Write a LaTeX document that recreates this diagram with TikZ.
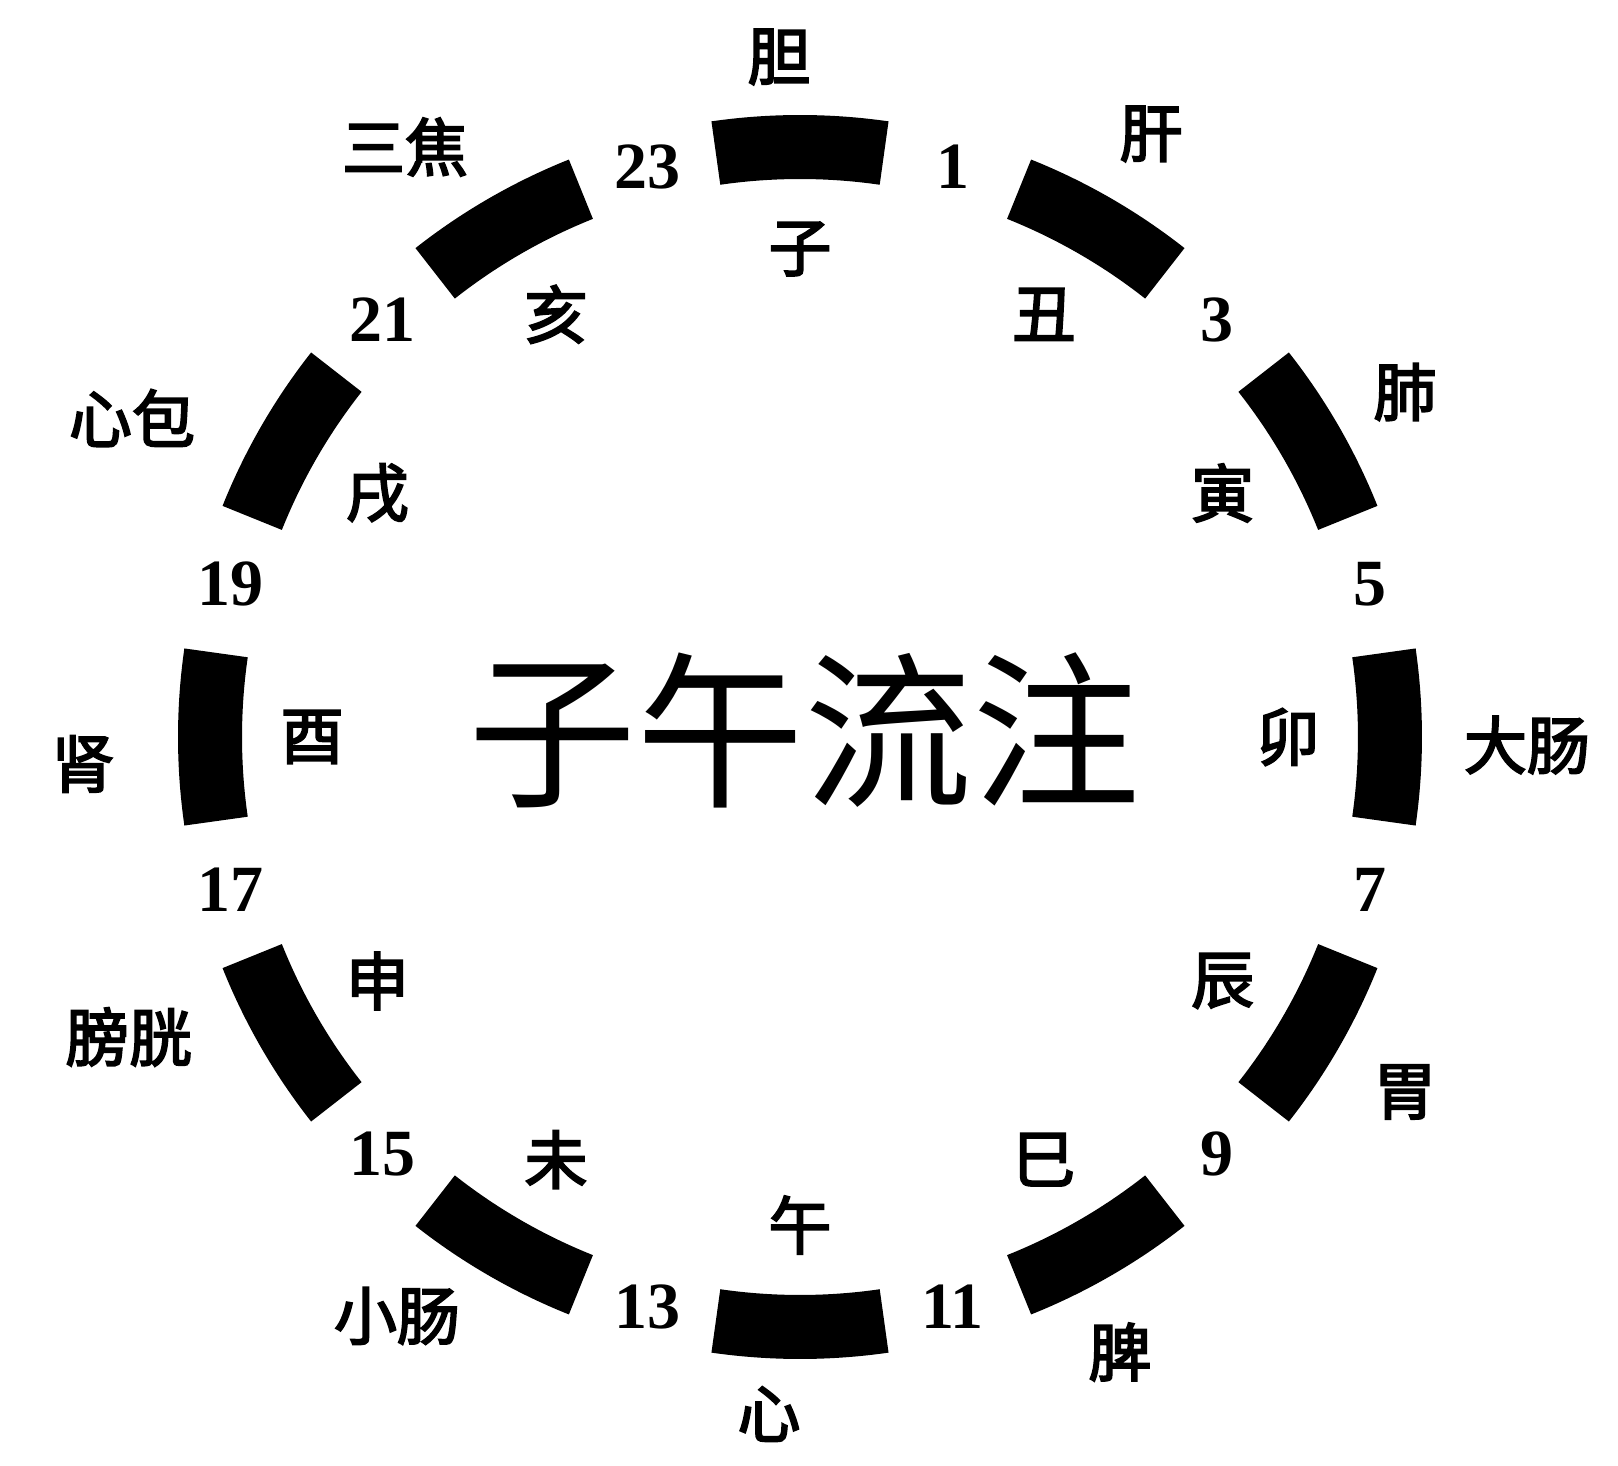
\documentclass[tikz,border=0pt]{standalone}
\usepackage{fontspec}
\setmainfont{Liberation Serif}
\newfontfamily\cjk{Noto Sans CJK SC}
\newfontfamily\cjkm{Noto Sans CJK SC}[FakeBold=3]
\begin{document}
\begin{tikzpicture}[x=1pt,y=1pt,line cap=butt,
	hour/.style={font=\bfseries\fontsize{66}{66}\selectfont},
	zhi/.style={font=\cjkm\fontsize{63}{63}\selectfont},
	organ/.style={font=\cjkm\fontsize{63}{63}\selectfont}]
	\def\r{590} \def\w{64} \def\s{8.2} % bán kính, độ dày, nửa góc
	\useasboundingbox (-800,-729) rectangle (818,737);
	% các đoạn cung đen
	\foreach \a in {90,60,...,-240}
		\draw[line width=\w pt] (\a-\s:\r) arc[start angle=\a-\s,delta angle=2*\s,radius=\r pt];
	% giờ
	\foreach \n in {1,3,...,23}
		\node[hour] (h\n) at ({90-15*\n}:\r) {\n};
	% địa chi
	\foreach \a/\z [count=\i] in {90/子,60/丑,30/寅,0/卯,-30/辰,-60/巳,-90/午,-120/未,-150/申,180/酉,150/戌,120/亥}
		\node[zhi] (z\i) at (\a:488) {\z};
	% tạng phủ
	\node[organ] (dan) at (-21,680) {胆};
	\node[organ] (gan) at (351,603) {肝};
	\node[organ] (fei) at (605,345) {肺};
	\node[organ] (dachang) at (727,-8) {大肠};
	\node[organ] (wei) at (605,-355) {胃};
	\node[organ] (pi) at (320,-615) {脾};
	\node[organ] (xin) at (-31,-677) {心};
	\node[organ] (xiaochang) at (-403,-579) {小肠};
	\node[organ] (pangguang) at (-671,-300) {膀胱};
	\node[organ] (shen) at (-717,-27) {肾};
	\node[organ] (xinbao) at (-668,319) {心包};
	\node[organ] (sanjiao) at (-395,590) {三焦};
	\node[font=\cjk\fontsize{168}{168}\selectfont] (title) at (5,7) {子午流注};
\end{tikzpicture}
\end{document}
